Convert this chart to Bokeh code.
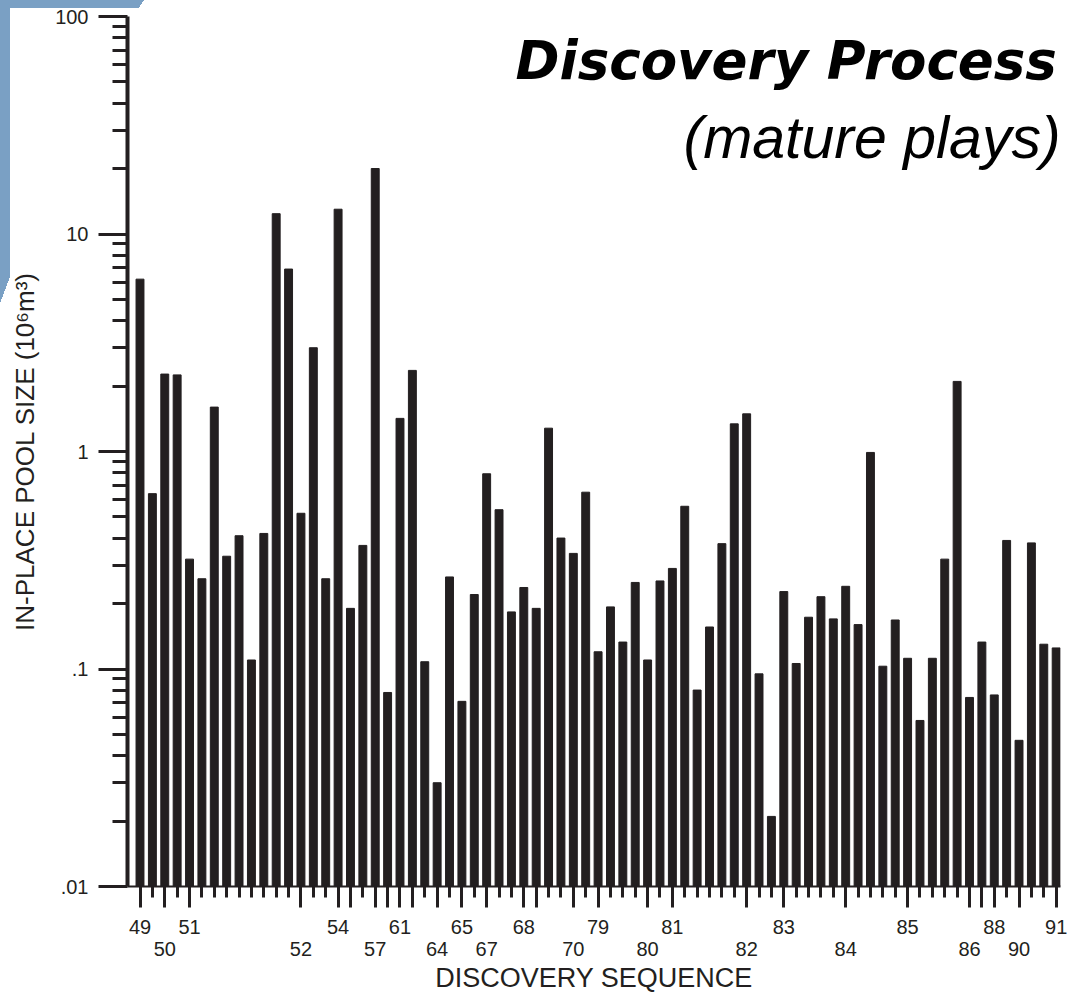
from bokeh.plotting import figure
from bokeh.models import (FixedTicker, LinearAxis, Label, ColumnDataSource,
                          Range1d)
from bokeh.embed import file_html
from bokeh.resources import INLINE

# ---- data -------------------------------------------------------------
years = ([49] * 2 + [50] * 2 + [51] * 9 + [52] * 3 + [54] + [55] * 2 + [57] +
         [59] + [61] + [62] * 2 + [64] * 2 + [65] * 2 + [67] * 3 + [68] +
         [69] * 3 + [70] * 2 + [79] * 4 + [80] * 2 + [81] * 6 + [82] * 3 +
         [83] * 5 + [84] * 5 + [85] * 5 + [86] + [87] + [88] * 2 + [90] * 3 +
         [91])

pool_size = [6.2, 0.64, 2.27, 2.25, 0.32, 0.26, 1.6, 0.33, 0.41, 0.11,
             0.42, 12.4, 6.9, 0.52, 3.0, 0.26, 13.0, 0.19, 0.37, 20.0,
             0.078, 1.42, 2.36, 0.108, 0.03, 0.265, 0.071, 0.22, 0.79, 0.54,
             0.183, 0.237, 0.19, 1.28, 0.40, 0.34, 0.65, 0.12, 0.193, 0.133,
             0.25, 0.11, 0.254, 0.29, 0.56, 0.08, 0.156, 0.377, 1.34, 1.49,
             0.095, 0.021, 0.227, 0.106, 0.173, 0.215, 0.17, 0.24, 0.16, 0.99,
             0.103, 0.168, 0.112, 0.058, 0.112, 0.32, 2.1, 0.074, 0.133, 0.076,
             0.39, 0.047, 0.38, 0.13, 0.125]

label_row1 = [49, 51, 54, 61, 65, 68, 79, 81, 83, 85, 88, 91]
label_row2 = [50, 52, 57, 64, 67, 70, 80, 82, 84, 86, 90]

y_major = [0.01, 0.1, 1, 10, 100]
y_labels = [".01", ".1", "1", "10", "100"]

# ---- derived ------------------------------------------------------------
seq = list(range(1, len(pool_size) + 1))
year_start = {}
for s, yr in zip(seq, years):
    year_start.setdefault(yr, s)
major_pos = [year_start[yr] for yr in sorted(year_start)]

y_minor = [k * 10.0 ** e for e in range(-2, 2) for k in range(2, 10)]

INK = "#231f20"
FONT = "Liberation Sans"
SLIDE_BLUE = "#7aa0c4"

src = ColumnDataSource(dict(x=seq, v=pool_size, yr=years))

p = figure(width=1067, height=995, y_axis_type="log",
           x_range=Range1d(-0.01, 75.35), y_range=Range1d(0.01, 100),
           output_backend="svg", toolbar_location=None,
           min_border_left=127, min_border_right=7,
           min_border_top=16, min_border_bottom=104)
p.outline_line_color = None
p.xgrid.visible = False
p.ygrid.visible = False
p.background_fill_color = "white"
p.border_fill_color = None

# slide background behind the (transparent) border area: blue corner strip
g = f"linear-gradient({SLIDE_BLUE},{SLIDE_BLUE})"
tri = f"linear-gradient(to bottom right,{SLIDE_BLUE} 50%,rgba(0,0,0,0) 50%)"
p.styles = {
    "background": (f"{g} 0 0 / 139px 8px no-repeat, "
                   f"{tri} 138px 0 / 6px 9px no-repeat, "
                   f"{g} 0 0 / 10px 278px no-repeat, "
                   f"{tri} 0 277px / 10px 26px no-repeat, "
                   "white"),
}

p.vbar(x="x", top="v", bottom=0.01, width=0.64, color=INK, source=src)

# ---- x axis: ticks + first row of labels ---------------------------------
xa = p.xaxis[0]
xa.ticker = FixedTicker(ticks=major_pos, minor_ticks=seq)
xa.major_label_overrides = {year_start[yr]: (str(yr) if yr in label_row1 else "")
                            for yr in year_start}
xa.axis_line_width = 2
xa.axis_line_color = INK
xa.major_tick_out = 21
xa.major_tick_in = 0
xa.major_tick_line_width = 3
xa.major_tick_line_color = INK
xa.minor_tick_out = 11
xa.minor_tick_in = 0
xa.minor_tick_line_width = 3
xa.minor_tick_line_color = INK
xa.major_label_standoff = 12
xa.major_label_text_font = FONT
xa.major_label_text_font_size = "20px"
xa.major_label_text_color = INK

# ---- x axis: second row of labels + title --------------------------------
xa2 = LinearAxis(ticker=FixedTicker(ticks=[year_start[yr] for yr in label_row2],
                                    minor_ticks=[]),
                 major_label_overrides={year_start[yr]: str(yr) for yr in label_row2},
                 axis_line_color=None, major_tick_line_color=None,
                 minor_tick_line_color=None, major_tick_out=0, major_tick_in=0,
                 minor_tick_out=0, minor_tick_in=0, major_label_standoff=5,
                 major_label_text_font=FONT, major_label_text_font_size="20px",
                 major_label_text_color=INK,
                 axis_label="DISCOVERY SEQUENCE", axis_label_standoff=4,
                 axis_label_text_font=FONT, axis_label_text_font_size="27px",
                 axis_label_text_font_style="normal", axis_label_text_color=INK)
p.add_layout(xa2, "below")

# ---- y axis ---------------------------------------------------------------
ya = p.yaxis[0]
ya.ticker = FixedTicker(ticks=y_major, minor_ticks=y_minor)
ya.major_label_overrides = dict(zip(y_major, y_labels))
ya.axis_line_width = 4
ya.axis_line_color = INK
ya.major_tick_out = 29
ya.major_tick_in = 0
ya.major_tick_line_width = 3
ya.major_tick_line_color = INK
ya.minor_tick_out = 15
ya.minor_tick_in = 0
ya.minor_tick_line_width = 3
ya.minor_tick_line_color = INK
ya.major_label_standoff = 10
ya.major_label_text_font = FONT
ya.major_label_text_font_size = "20px"
ya.major_label_text_color = INK
ya.axis_label = "IN-PLACE POOL SIZE (10\u2076m\u00b3)"
ya.axis_label_standoff = 12
ya.axis_label_text_font = FONT
ya.axis_label_text_font_size = "26px"
ya.axis_label_text_font_style = "normal"
ya.axis_label_text_color = INK

# ---- titles ---------------------------------------------------------------
p.add_layout(Label(x=31.33, y=63, text="Discovery Process",
                   text_font="DejaVu Sans", text_font_style="bold italic",
                   text_font_size="53px", text_color="black",
                   text_align="left", text_baseline="alphabetic"))
p.add_layout(Label(x=44.9, y=27.7, text="(mature plays)",
                   text_font=FONT, text_font_style="italic",
                   text_font_size="59px", text_color="black",
                   text_align="left", text_baseline="alphabetic"))

open("out.html", "w").write(file_html(p, INLINE))
